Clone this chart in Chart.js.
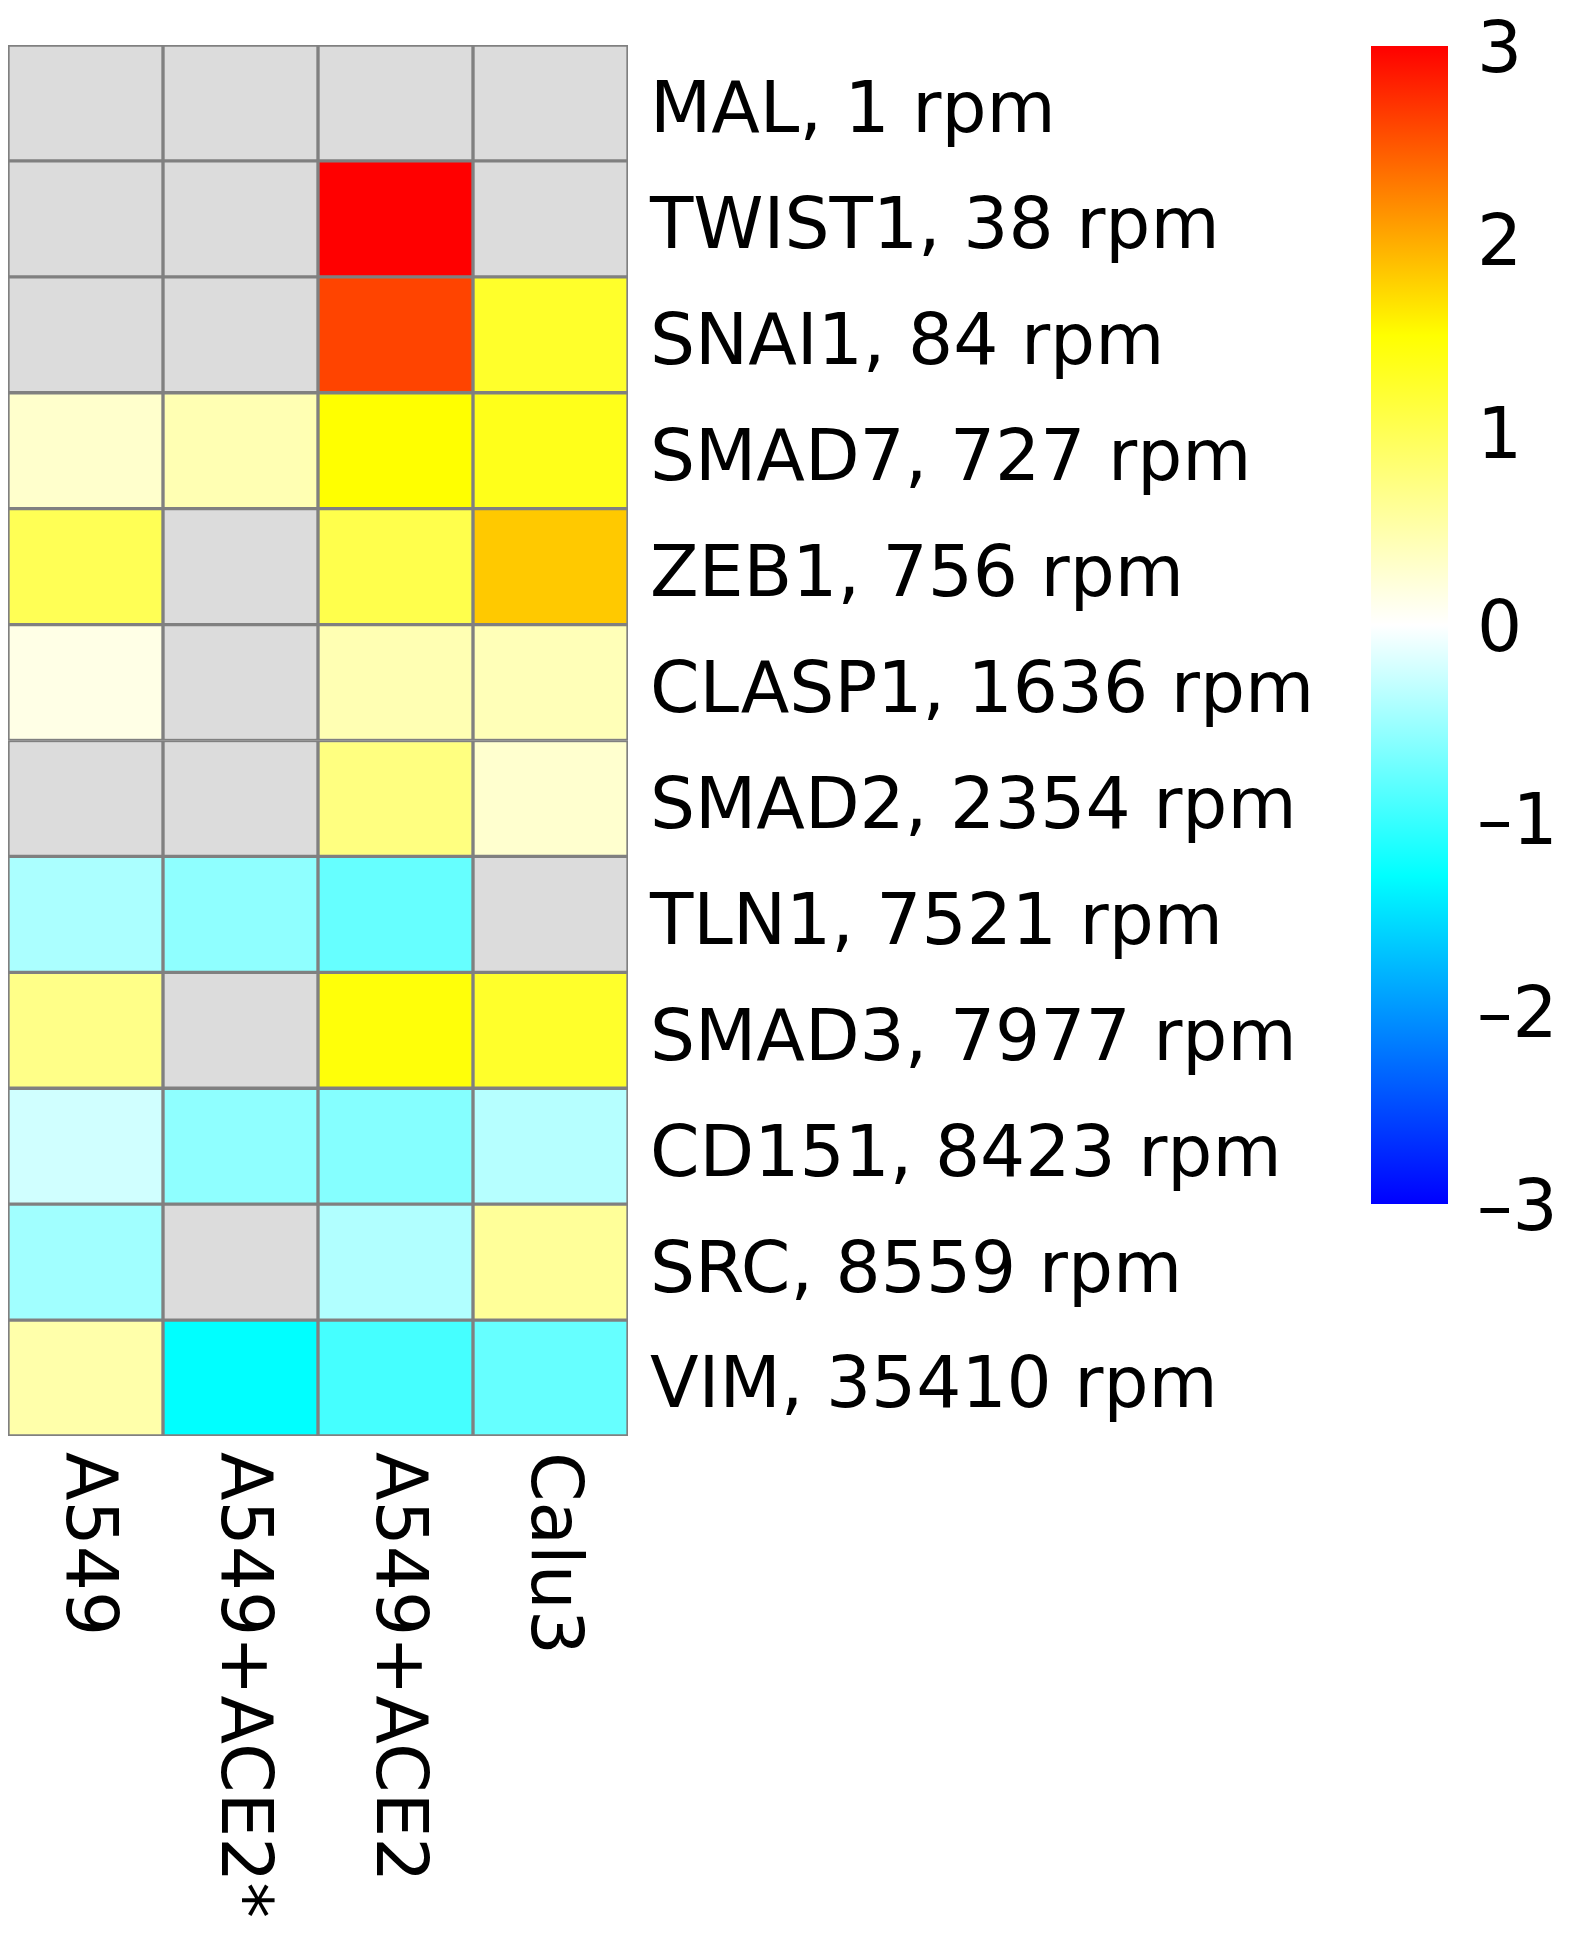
<!DOCTYPE html>
<html>
<head>
<meta charset="utf-8">
<title>EMT genes heatmap</title>
<script src="https://cdn.jsdelivr.net/npm/chart.js@4.4.1/dist/chart.umd.min.js"></script>
<style>
  html, body { margin: 0; padding: 0; background: #fff; }
  #wrap { position: relative; width: 1575px; height: 1936px; overflow: hidden; }
  #heat { position: absolute; left: 0; top: 0; }
  #bar { position: absolute; left: 1340px; top: 0; }
</style>
</head>
<body>
<div id="wrap">
  <canvas id="heat" width="1340" height="1936"></canvas>
  <canvas id="bar" width="235" height="1936"></canvas>
</div>
<script>
// rows, top to bottom
const genes = ['MAL', 'TWIST1', 'SNAI1', 'SMAD7', 'ZEB1', 'CLASP1', 'SMAD2', 'TLN1', 'SMAD3', 'CD151', 'SRC', 'VIM'];
const rpm = [1, 38, 84, 727, 756, 1636, 2354, 7521, 7977, 8423, 8559, 35410];
const cellLines = ['A549', 'A549+ACE2*', 'A549+ACE2', 'Calu3'];

// log fold values per cell line (null = not detected, grey)
const a549      = [null, null, null, 0.3,  1.0,  0.15, null, -0.43, 0.7,  -0.24, -0.48, 0.5];
const a549Ace2s = [null, null, null, 0.45, null, null, null, -0.57, null, -0.57, null, -1.3];
const a549Ace2  = [null, 3.0,  2.6,  1.5,  1.05, 0.45, 0.75, -0.78, 1.45, -0.62, -0.4, -0.95];
const calu3     = [null, null, 1.25, 1.35, 1.82, 0.42, 0.28, null,  1.25, -0.37, 0.6,  -0.78];

const colorMin = -3;
const colorMax = 3;

const cmap = [
  [-3, [0, 0, 255]],
  [-2, [0, 150, 255]],
  [-1.3, [0, 255, 255]],
  [0, [255, 255, 255]],
  [1.5, [255, 255, 0]],
  [2, [255, 170, 0]],
  [3, [255, 0, 0]]
];
const naColor = '#dcdcdc';
const fontFamily = '"DejaVu Sans", Verdana, sans-serif';
const fontSize = 71;

function colorFor(v) {
  if (v === null || v === undefined) return naColor;
  v = Math.max(colorMin, Math.min(colorMax, v));
  for (let i = 1; i < cmap.length; i++) {
    if (v <= cmap[i][0]) {
      const [v0, c0] = cmap[i - 1];
      const [v1, c1] = cmap[i];
      const t = (v - v0) / (v1 - v0);
      const c = c0.map((a, k) => Math.round(a + (c1[k] - a) * t));
      return 'rgb(' + c.join(',') + ')';
    }
  }
  return 'rgb(255,0,0)';
}

const columns = [a549, a549Ace2s, a549Ace2, calu3];

// column labels under the grid, rotated clockwise
const colLabels = {
  id: 'colLabels',
  afterDraw(chart) {
    const xs = chart.scales.x;
    const ctx = chart.ctx;
    ctx.save();
    ctx.fillStyle = '#000';
    ctx.font = fontSize + 'px ' + fontFamily;
    ctx.textAlign = 'left';
    ctx.textBaseline = 'middle';
    cellLines.forEach((name, j) => {
      ctx.save();
      ctx.translate(xs.getPixelForValue(j + 0.5), chart.chartArea.bottom + 16);
      ctx.rotate(Math.PI / 2);
      ctx.fillText(name, 0, 0);
      ctx.restore();
    });
    ctx.restore();
  }
};

new Chart(document.getElementById('heat'), {
  type: 'bar',
  data: {
    labels: genes.map((g, i) => g + ', ' + rpm[i] + ' rpm'),
    datasets: columns.map((col, j) => ({
      label: cellLines[j],
      data: col.map(() => 1),
      backgroundColor: (c) => colorFor(col[c.dataIndex]),
      borderColor: '#808080',
      borderWidth: 2,
      borderSkipped: false,
      barPercentage: 1,
      categoryPercentage: 1
    }))
  },
  options: {
    indexAxis: 'y',
    responsive: false,
    animation: false,
    layout: { padding: { left: 8, top: 45, bottom: 500, right: 0 } },
    plugins: {
      legend: { display: false },
      tooltip: { enabled: false }
    },
    scales: {
      x: { stacked: true, min: 0, max: 4, display: false },
      y: {
        stacked: true,
        position: 'right',
        grid: { display: false, drawTicks: false },
        border: { display: false },
        ticks: {
          color: '#000',
          padding: 22,
          labelOffset: 11,
          font: { family: fontFamily, size: fontSize }
        },
        afterFit: (s) => { s.width = 712; s.paddingTop = 0; s.paddingBottom = 0; }
      }
    }
  },
  plugins: [colLabels]
});

// colour bar
new Chart(document.getElementById('bar'), {
  type: 'bar',
  data: {
    labels: [''],
    datasets: [{
      data: [[colorMin, colorMax]],
      barPercentage: 1,
      categoryPercentage: 1,
      borderWidth: 0,
      backgroundColor: (c) => {
        const chart = c.chart;
        if (!chart.chartArea) return '#fff';
        const ys = chart.scales.y;
        const g = chart.ctx.createLinearGradient(0, ys.getPixelForValue(colorMin), 0, ys.getPixelForValue(colorMax));
        cmap.forEach(([v, col]) => {
          g.addColorStop((v - colorMin) / (colorMax - colorMin), 'rgb(' + col.join(',') + ')');
        });
        return g;
      }
    }]
  },
  options: {
    responsive: false,
    animation: false,
    layout: { padding: { left: 31, top: 46, bottom: 732, right: 0 } },
    plugins: {
      legend: { display: false },
      tooltip: { enabled: false }
    },
    scales: {
      x: { display: false },
      y: {
        position: 'right',
        min: colorMin,
        max: colorMax,
        grid: { display: false, drawTicks: false },
        border: { display: false },
        ticks: {
          stepSize: 1,
          color: '#000',
          padding: 29,
          labelOffset: 8,
          font: { family: fontFamily, size: fontSize },
          callback: (v) => (v < 0 ? '\u2013' + Math.abs(v) : String(v))
        },
        afterFit: (s) => { s.width = 127; s.paddingTop = 0; s.paddingBottom = 0; }
      }
    }
  }
});
</script>
</body>
</html>
